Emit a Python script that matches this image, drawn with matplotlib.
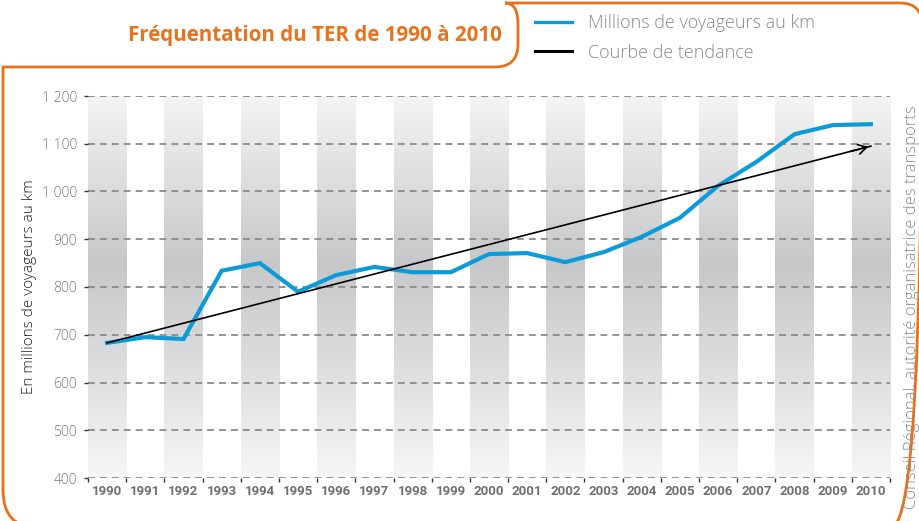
import matplotlib
matplotlib.use("Agg")
import matplotlib.pyplot as plt
import numpy as np
from matplotlib.colors import LinearSegmentedColormap
from matplotlib.path import Path
from matplotlib.patches import PathPatch
from matplotlib.lines import Line2D

years = [str(y) for y in range(1990, 2011)]
voyageurs = [683, 695, 691, 834, 850, 790, 825, 842, 831, 831, 869, 871,
             852, 873, 905, 945, 1012, 1062, 1120, 1139, 1141]
tendance_start = 683
tendance_end = 1095
y_ticks = [400, 500, 600, 700, 800, 900, 1000, 1100, 1200]
y_tick_labels = ["400", "500", "600", "700", "800", "900", "1 000", "1 100", "1 200"]

title = "Fréquentation du TER de 1990 à 2010"
label_series = "Millions de voyageurs au km"
label_trend = "Courbe de tendance"
ylabel = "En millions de voyageurs au km"
source = "Conseil Régional, autorité organisatrice des transports"

W, H = 920, 521
fig = plt.figure(figsize=(W / 100, H / 100), dpi=100)
fig.patch.set_facecolor("white")

def fx(x):
    return x / W

def fy(y):
    return 1 - y / H

ax = fig.add_axes([fx(88), fy(478), fx(890) - fx(88), fy(96) - fy(478)])
ax.set_xlim(-0.5, len(years) - 0.5)
ax.set_ylim(400, 1200)

# gradient bands
cmap = LinearSegmentedColormap.from_list(
    "band",
    [(0.0, "#f6f6f6"), (0.25, "#e0e1e2"), (0.56, "#c6c7c9"), (1.0, "#f4f4f4")])
grad = np.linspace(0, 1, 256).reshape(-1, 1)
for i in range(0, len(years), 2):
    ax.imshow(grad, extent=[i - 0.5, i + 0.5, 400, 1200], origin="lower",
              aspect="auto", cmap=cmap, vmin=0, vmax=1, zorder=0)

# grid
for yv in y_ticks:
    ax.axhline(yv, color="#8a8a8a", lw=1.3, ls=(0, (3.8, 2.8)), zorder=1)

x = np.arange(len(years))
line, = ax.plot(x, voyageurs, color="#0c9bd8", lw=3.0, solid_joinstyle="miter",
                zorder=3)
trend, = ax.plot([0, len(years) - 1], [tendance_start, tendance_end],
                 color="black", lw=1.2, zorder=4)
ax.annotate("", xy=(len(years) - 1, tendance_end),
            xytext=(len(years) - 1.6, tendance_end - 0.6 / 20 * (tendance_end - tendance_start)),
            arrowprops=dict(arrowstyle="->,head_length=0.6,head_width=0.35",
                            color="black", lw=1.2), zorder=4)

for s in ax.spines.values():
    s.set_visible(False)

ax.set_yticks(y_ticks)
ax.set_yticklabels(y_tick_labels)
ax.tick_params(axis="y", length=3, width=1, color="#333333", pad=5,
               labelsize=10, labelcolor="#7a7a7a")
for t in ax.get_yticklabels():
    t.set_fontfamily("Open Sans")
    t.set_fontweight("light")

ax.set_xticks(x)
ax.set_xticklabels(years)
ax.set_xticks(np.arange(-0.5, len(years), 1), minor=True)
ax.tick_params(axis="x", which="major", length=0, pad=5, labelsize=9.5,
               labelcolor="#6f6f6f")
ax.tick_params(axis="x", which="minor", length=3, width=1, color="#333333")
for t in ax.get_xticklabels():
    t.set_fontfamily(["Roboto", "DejaVu Sans"])
    t.set_fontweight("bold")

fig.text(fx(30), fy(287), ylabel, rotation=90, ha="center", va="center",
         fontsize=11, color="#222222", family="Open Sans", fontweight="light")

fig.text(fx(912), fy(307), source, rotation=90, ha="center", va="center",
         fontsize=12, color="#8c8c8c", family="Open Sans", fontweight="light")

fig.text(fx(502), fy(35), title, ha="right", va="center", fontsize=14.8,
         fontweight="bold", color="#e9721d", family="Open Sans")

h1 = Line2D([], [], color=line.get_color(), lw=2.4)
h2 = Line2D([], [], color="black", lw=2.2)
leg = ax.legend(handles=[h1, h2], labels=[label_series, label_trend],
                loc="upper left",
                bbox_to_anchor=(fx(535), fy(14)), bbox_transform=fig.transFigure,
                frameon=False, handlelength=2.05, handletextpad=0.89,
                labelspacing=0.65, borderaxespad=0, borderpad=0,
                labelcolor="#8a8a8a",
                prop={"family": "Open Sans", "weight": "light", "size": 13})

# orange frame
pts = [
    (36, 527), (3, 527), (3, 490),
    (3, 67),
    (495, 67), (518, 67), (518, 44),
    (518, 24), (518, 3), (505, 3),
    (900, 3), (922, 3), (922, 25),
    (922, 496), (922, 526), (892, 526),
]
codes = [Path.MOVETO, Path.CURVE3, Path.CURVE3,
         Path.LINETO,
         Path.LINETO, Path.CURVE3, Path.CURVE3,
         Path.LINETO, Path.CURVE3, Path.CURVE3,
         Path.LINETO, Path.CURVE3, Path.CURVE3,
         Path.LINETO, Path.CURVE3, Path.CURVE3]
path = Path([(fx(a), fy(b)) for a, b in pts], codes)
fig.add_artist(PathPatch(path, transform=fig.transFigure, fill=False,
                         edgecolor="#ec6f17", lw=2.0, clip_on=False))

fig.savefig("out.png", dpi=100)
